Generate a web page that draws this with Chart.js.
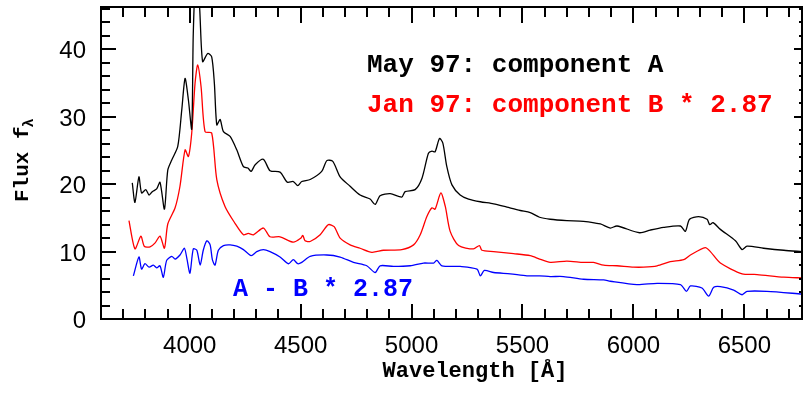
<!DOCTYPE html>
<html>
<head>
<meta charset="utf-8">
<script src="https://cdn.jsdelivr.net/npm/chart.js@4"></script>
<style>
  html, body { margin: 0; padding: 0; background: #fff; }
  #wrap { width: 803px; height: 393px; }
</style>
</head>
<body>
<div id="wrap"><canvas id="spec" width="803" height="393"></canvas></div>
<script>
// ---- data ----
const wlA = [3741, 3753, 3771, 3783, 3802, 3817, 3831, 3851, 3866, 3886, 3901, 3919, 3946, 3964, 3979, 3994, 4009, 4016, 4028, 4044, 4058, 4081, 4099, 4111, 4122, 4137, 4152, 4182, 4212, 4242, 4262, 4277, 4295, 4332, 4362, 4407, 4440, 4467, 4487, 4505, 4543, 4595, 4618, 4645, 4678, 4723, 4768, 4813, 4836, 4858, 4904, 4956, 4971, 5016, 5047, 5076, 5092, 5106, 5126, 5141, 5159, 5182, 5219, 5257, 5310, 5370, 5430, 5490, 5535, 5577, 5625, 5700, 5775, 5851, 5896, 5926, 6028, 6076, 6136, 6212, 6234, 6253, 6294, 6332, 6344, 6359, 6392, 6460, 6490, 6512, 6587, 6678, 6761];
const fluxA = [20.2, 17.3, 21.1, 18.7, 19.2, 18.4, 18.9, 19.3, 20.3, 16.3, 22.1, 23.6, 25.6, 31.0, 35.7, 32.5, 28.2, 42.4, 51.0, 46.5, 38.2, 39.4, 38.9, 35.0, 28.8, 29.6, 27.8, 27.1, 25.1, 22.6, 22.4, 21.9, 22.9, 23.7, 22.0, 21.8, 20.3, 20.4, 19.8, 20.4, 20.7, 21.9, 23.5, 23.4, 21.1, 19.7, 18.4, 17.8, 17.0, 18.3, 18.6, 18.1, 18.9, 19.2, 20.9, 24.6, 24.9, 24.8, 26.8, 26.1, 22.6, 19.9, 18.4, 17.8, 17.4, 17.1, 16.6, 16.1, 15.8, 15.1, 14.8, 14.6, 14.5, 14.1, 13.5, 13.8, 12.8, 13.2, 13.6, 13.8, 13.0, 14.8, 15.2, 14.8, 14.0, 14.3, 13.3, 11.6, 10.3, 10.8, 10.5, 10.2, 10.0];

const wlB = [3726, 3753, 3780, 3795, 3821, 3844, 3866, 3886, 3901, 3934, 3956, 3979, 3994, 4009, 4024, 4036, 4051, 4069, 4099, 4122, 4159, 4204, 4242, 4264, 4287, 4332, 4362, 4407, 4467, 4501, 4510, 4520, 4543, 4588, 4625, 4651, 4678, 4723, 4768, 4821, 4873, 4956, 5009, 5039, 5069, 5092, 5106, 5132, 5152, 5174, 5212, 5279, 5306, 5317, 5370, 5460, 5535, 5577, 5625, 5700, 5775, 5820, 5866, 5926, 6001, 6046, 6107, 6166, 6227, 6257, 6324, 6347, 6392, 6490, 6558, 6678, 6761];
const fluxB = [14.6, 10.4, 12.3, 10.8, 10.7, 11.3, 12.3, 10.5, 14.1, 16.5, 19.7, 25.1, 24.1, 27.6, 35.0, 37.7, 34.5, 27.8, 27.6, 20.7, 16.7, 14.2, 12.5, 12.7, 12.5, 13.5, 12.2, 12.2, 11.4, 12.0, 12.4, 11.6, 11.5, 12.5, 14.0, 13.7, 12.0, 11.0, 10.5, 9.9, 10.2, 10.3, 11.0, 12.5, 15.2, 16.5, 16.3, 18.7, 16.7, 13.0, 10.9, 10.4, 10.9, 10.2, 10.0, 9.7, 9.4, 8.9, 8.4, 8.6, 8.4, 8.4, 8.0, 7.9, 7.7, 7.7, 7.9, 8.5, 8.8, 9.5, 10.6, 10.0, 8.3, 6.7, 6.6, 6.2, 6.1];

const wlDiff = [3746, 3771, 3783, 3798, 3817, 3836, 3851, 3866, 3881, 3896, 3919, 3934, 3956, 3976, 3987, 4001, 4016, 4032, 4047, 4061, 4077, 4092, 4102, 4114, 4129, 4152, 4182, 4212, 4242, 4277, 4302, 4332, 4362, 4407, 4445, 4467, 4487, 4505, 4543, 4618, 4678, 4738, 4798, 4836, 4858, 4918, 4994, 5054, 5099, 5114, 5137, 5219, 5295, 5310, 5328, 5370, 5445, 5520, 5577, 5625, 5685, 5775, 5866, 5896, 6016, 6107, 6212, 6239, 6257, 6309, 6339, 6362, 6392, 6452, 6490, 6512, 6602, 6761];
const fluxDiff = [6.4, 9.2, 7.4, 8.2, 7.7, 8.0, 7.6, 7.9, 6.2, 8.7, 9.3, 8.9, 9.5, 10.5, 9.0, 6.8, 10.4, 10.2, 8.0, 10.2, 11.6, 11.0, 8.8, 8.0, 10.2, 10.9, 11.0, 10.8, 10.3, 9.4, 10.0, 10.3, 10.0, 9.2, 8.2, 8.8, 8.2, 8.4, 9.3, 9.5, 9.2, 8.4, 7.9, 6.9, 7.9, 7.8, 7.9, 8.3, 8.3, 8.7, 7.9, 7.8, 7.4, 6.4, 7.2, 6.9, 6.7, 6.4, 6.4, 6.3, 6.3, 5.9, 5.8, 5.6, 5.1, 5.3, 5.1, 4.1, 4.9, 4.6, 3.4, 4.7, 4.8, 4.3, 3.6, 4.1, 4.1, 3.7];

const xTickLabels = [4000, 4500, 5000, 5500, 6000, 6500];
const yTickLabels = [0, 10, 20, 30, 40];
const xMinorStep = 100;
const yMinorStep = 2;

const xMin = 3600, xMax = 6760;
const yMin = 0, yMax = 46.3;

function pairs(xs, ys) {
    return xs.map((x, i) => ({ x: x, y: ys[i] }));
}

// ---- frame, inward ticks and all the texts ----
const framePlugin = {
    id: "frame",
    afterDatasetsDraw(chart) {
        const ctx = chart.ctx;
        const a = chart.chartArea;
        const xs = chart.scales.x;
        const ys = chart.scales.y;

        ctx.save();
        ctx.strokeStyle = "#000";
        ctx.lineWidth = 2;
        ctx.strokeRect(a.left, a.top, a.right - a.left, a.bottom - a.top);

        ctx.beginPath();
        for (let v = Math.ceil(xMin / xMinorStep) * xMinorStep; v <= xMax; v += xMinorStep) {
            if (v <= xMin) continue;
            const major = xTickLabels.includes(v);
            const px = Math.round(xs.getPixelForValue(v));
            ctx.moveTo(px, a.bottom);
            ctx.lineTo(px, a.bottom - (major ? 15 : 10));
            ctx.moveTo(px, a.top);
            ctx.lineTo(px, a.top + (major ? 16 : 10));
        }
        for (let v = yMin + yMinorStep; v < yMax; v += yMinorStep) {
            const major = yTickLabels.includes(v);
            const py = Math.round(ys.getPixelForValue(v));
            ctx.moveTo(a.left, py);
            ctx.lineTo(a.left + (major ? 15 : 9), py);
            ctx.moveTo(a.right, py);
            ctx.lineTo(a.right - (major ? 8 : 3), py);
        }
        ctx.stroke();

        // tick labels
        ctx.fillStyle = "#000";
        ctx.font = "24px 'Liberation Sans', Arial, sans-serif";
        ctx.textAlign = "center";
        ctx.textBaseline = "alphabetic";
        xTickLabels.forEach(v => {
            ctx.fillText(String(v), xs.getPixelForValue(v), 353);
        });
        ctx.textAlign = "right";
        yTickLabels.forEach(v => {
            ctx.fillText(String(v), 86, ys.getPixelForValue(v) + 9);
        });

        // axis titles
        ctx.font = "bold 22px 'Liberation Mono', 'DejaVu Sans Mono', monospace";
        ctx.textAlign = "center";
        ctx.fillText("Wavelength [Å]", 475, 377);

        ctx.save();
        ctx.translate(28, 202);
        ctx.rotate(-Math.PI / 2);
        ctx.textAlign = "left";
        ctx.font = "bold 21px 'Liberation Mono', 'DejaVu Sans Mono', monospace";
        ctx.fillText("Flux f", 0, 0);
        const w = ctx.measureText("Flux f").width;
        ctx.font = "bold 15px 'Liberation Mono', 'DejaVu Sans Mono', monospace";
        ctx.fillText("λ", w - 1, 5);
        ctx.restore();

        // labels of the curves
        ctx.textAlign = "left";
        ctx.font = "bold 26px 'Liberation Mono', 'DejaVu Sans Mono', monospace";
        ctx.fillStyle = "#000";
        ctx.fillText("May 97: component A", 367, 72);
        ctx.fillStyle = "#ff0000";
        ctx.fillText("Jan 97: component B * 2.87", 367, 112);
        ctx.font = "bold 25px 'Liberation Mono', 'DejaVu Sans Mono', monospace";
        ctx.fillStyle = "#0000ff";
        ctx.fillText("A - B * 2.87", 233, 296);

        ctx.restore();
    }
};

new Chart(document.getElementById("spec"), {
    type: "line",
    data: {
        datasets: [
            { label: "May 97: component A", data: pairs(wlA, fluxA), borderColor: "#000000" },
            { label: "Jan 97: component B * 2.87", data: pairs(wlB, fluxB), borderColor: "#ff0000" },
            { label: "A - B * 2.87", data: pairs(wlDiff, fluxDiff), borderColor: "#0000ff" }
        ]
    },
    options: {
        responsive: false,
        animation: false,
        devicePixelRatio: 1,
        layout: { padding: { left: 101, right: 1, top: 7, bottom: 74 } },
        elements: {
            line: { borderWidth: 1.3, tension: 0.25, fill: false },
            point: { radius: 0 }
        },
        plugins: {
            legend: { display: false },
            tooltip: { enabled: false }
        },
        scales: {
            x: { type: "linear", min: xMin, max: xMax, display: false },
            y: { type: "linear", min: yMin, max: yMax, display: false }
        }
    },
    plugins: [framePlugin]
});
</script>
</body>
</html>
